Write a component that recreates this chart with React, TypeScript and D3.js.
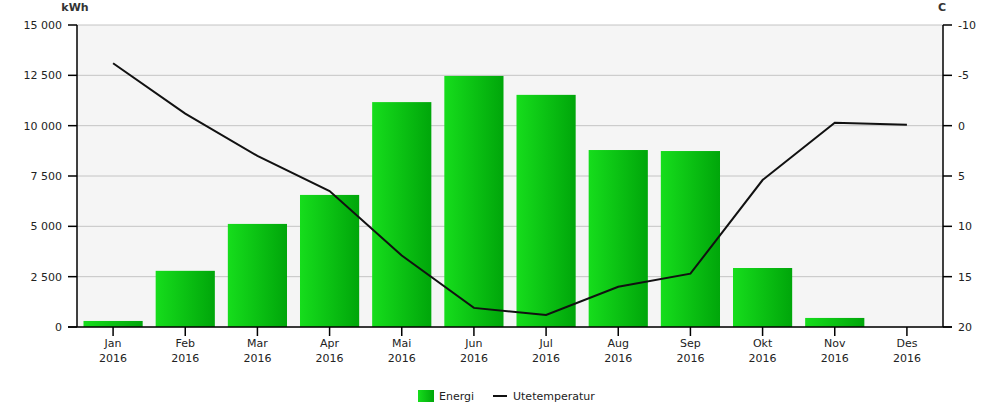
import React from "react";
import * as d3 from "d3";

const months = ["Jan", "Feb", "Mar", "Apr", "Mai", "Jun", "Jul", "Aug", "Sep", "Okt", "Nov", "Des"];
const year = "2016";
const energi = [300, 2790, 5120, 6560, 11170, 12470, 11530, 8790, 8740, 2930, 450, 0];
const temp = [-6.2, -1.2, 3.0, 6.5, 12.9, 18.1, 18.8, 16.0, 14.7, 5.4, -0.3, -0.1];
const leftTicks = [0, 2500, 5000, 7500, 10000, 12500, 15000];
const rightTicks = [-10, -5, 0, 5, 10, 15, 20];

const W = 1004, H = 407;
const M = { left: 77, right: 943, top: 25, bottom: 327 };
const font = "Tahoma, 'DejaVu Sans', Verdana, sans-serif";

const fmt = (v: number) => d3.format(",")(v).replace(/,/g, " ");

export default function App() {
  const x = d3.scaleBand<string>().domain(months).range([M.left, M.right]).paddingInner(0.18).paddingOuter(0.09);
  const y = d3.scaleLinear().domain([0, 15000]).range([M.bottom, M.top]);
  const yr = d3.scaleLinear().domain([20, -10]).range([M.bottom, M.top]);
  const line = d3.line<number>().x((_, i) => (x(months[i]) as number) + x.bandwidth() / 2).y((d) => yr(d));
  const step = (M.right - M.left) / months.length;

  return (
    <svg width={W} height={H} style={{ position: "absolute", left: 0, top: 0, fontFamily: font }}>
      <defs>
        <linearGradient id="g" x1="0" x2="1" y1="0" y2="0">
          <stop offset="0" stopColor="#16dd1c" />
          <stop offset="1" stopColor="#00a60a" />
        </linearGradient>
      </defs>
      <rect x={M.left} y={M.top} width={M.right - M.left} height={M.bottom - M.top} fill="#f5f5f5" />
      {leftTicks.map((t) => (
        <line key={t} x1={M.left} x2={M.right} y1={y(t)} y2={y(t)} stroke="#c4c4c4" strokeWidth={1} />
      ))}
      {energi.map((v, i) => (
        <rect key={i} x={x(months[i])} y={y(v)} width={x.bandwidth()} height={M.bottom - y(v)} fill="url(#g)" />
      ))}
      <path d={line(temp) || ""} fill="none" stroke="#111" strokeWidth={2} />
      <line x1={M.left} x2={M.left} y1={M.top} y2={M.bottom} stroke="#000" strokeWidth={1.5} />
      <line x1={M.right} x2={M.right} y1={M.top} y2={M.bottom} stroke="#000" strokeWidth={1.5} />
      <line x1={M.left - 9} x2={M.right + 9} y1={M.bottom} y2={M.bottom} stroke="#000" strokeWidth={1.5} />
      {leftTicks.map((t) => (
        <g key={t}>
          <line x1={M.left - 9} x2={M.left} y1={y(t)} y2={y(t)} stroke="#000" strokeWidth={1.5} />
          <text x={M.left - 15} y={y(t)} dy="0.35em" textAnchor="end" fontSize={11} fill="#222">{fmt(t)}</text>
        </g>
      ))}
      {rightTicks.map((t) => (
        <g key={t}>
          <line x1={M.right} x2={M.right + 9} y1={yr(t)} y2={yr(t)} stroke="#000" strokeWidth={1.5} />
          <text x={M.right + 15} y={yr(t)} dy="0.35em" textAnchor="start" fontSize={11} fill="#222">{t}</text>
        </g>
      ))}
      {months.map((m, i) => {
        const cx = M.left + step * (i + 0.5);
        return (
          <g key={m}>
            <line x1={cx} x2={cx} y1={M.bottom} y2={M.bottom + 9} stroke="#000" strokeWidth={1.5} />
            <text x={cx} y={M.bottom + 20} textAnchor="middle" fontSize={11} fill="#222">{m}</text>
            <text x={cx} y={M.bottom + 35} textAnchor="middle" fontSize={11} fill="#222">{year}</text>
          </g>
        );
      })}
      <text x={75} y={11} textAnchor="middle" fontSize={11} fontWeight="bold" fill="#333">kWh</text>
      <text x={942} y={11} textAnchor="middle" fontSize={11} fontWeight="bold" fill="#333">C</text>
      <rect x={418} y={390} width={16} height={12} fill="url(#g)" />
      <text x={439} y={400} fontSize={11} fill="#222">Energi</text>
      <line x1={493} x2={507} y1={396} y2={396} stroke="#111" strokeWidth={2} />
      <text x={513} y={400} fontSize={11} fill="#222">Utetemperatur</text>
    </svg>
  );
}
